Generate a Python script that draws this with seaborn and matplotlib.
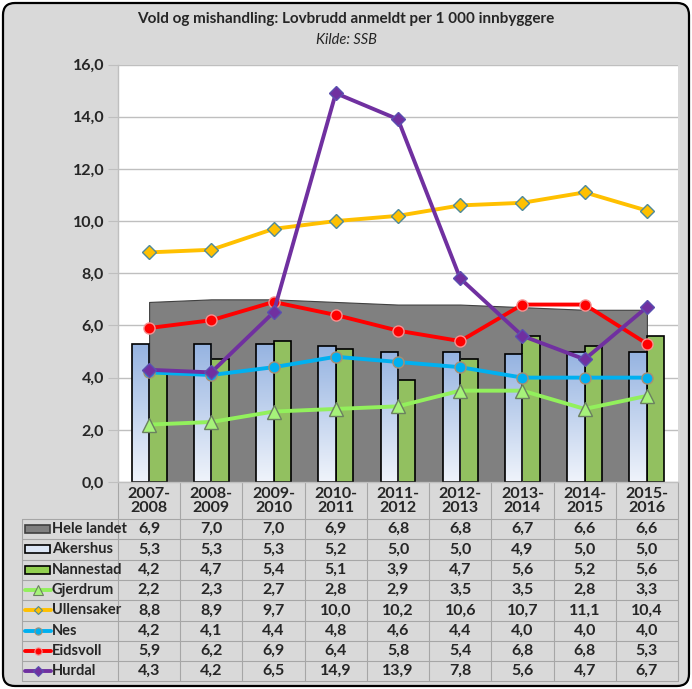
"""Vold og mishandling: lovbrudd anmeldt per 1 000 innbyggere (Kilde: SSB)."""

import matplotlib
matplotlib.use("Agg")  # Non-interactive backend
import matplotlib.pyplot as plt
import numpy as np
import pandas as pd
import seaborn as sns
from matplotlib.colors import LinearSegmentedColormap
from matplotlib.lines import Line2D
from matplotlib.patches import FancyBboxPatch, Rectangle
from matplotlib.ticker import FuncFormatter

periods = ["2007-\n2008", "2008-\n2009", "2009-\n2010", "2010-\n2011", "2011-\n2012",
           "2012-\n2013", "2013-\n2014", "2014-\n2015", "2015-\n2016"]
hele_landet = [6.9, 7.0, 7.0, 6.9, 6.8, 6.8, 6.7, 6.6, 6.6]
akershus = [5.3, 5.3, 5.3, 5.2, 5.0, 5.0, 4.9, 5.0, 5.0]
nannestad = [4.2, 4.7, 5.4, 5.1, 3.9, 4.7, 5.6, 5.2, 5.6]
gjerdrum = [2.2, 2.3, 2.7, 2.8, 2.9, 3.5, 3.5, 2.8, 3.3]
ullensaker = [8.8, 8.9, 9.7, 10.0, 10.2, 10.6, 10.7, 11.1, 10.4]
nes = [4.2, 4.1, 4.4, 4.8, 4.6, 4.4, 4.0, 4.0, 4.0]
eidsvoll = [5.9, 6.2, 6.9, 6.4, 5.8, 5.4, 6.8, 6.8, 5.3]
hurdal = [4.3, 4.2, 6.5, 14.9, 13.9, 7.8, 5.6, 4.7, 6.7]

TITLE = "Vold og mishandling: Lovbrudd anmeldt per 1 000 innbyggere"
SUBTITLE = "Kilde: SSB"

BG = "#d9d9d9"
GRID = "#bfbfbf"
TABLE_LINE = "#a6a6a6"
TABLE_FS = 11.5
LABEL_FS = 10.5

LINE_STYLES = {
    "Gjerdrum": dict(color="#92f05c", marker="^", markerfacecolor="#a6f27a",
                     markeredgecolor="#6b8060", markersize=10),
    "Ullensaker": dict(color="#ffc000", marker="D", markerfacecolor="#ffc000",
                       markeredgecolor="#4f8a9a", markersize=7),
    "Nes": dict(color="#00b0f0", marker="o", markerfacecolor="#00b0f0",
                markeredgecolor="#a88f72", markersize=8),
    "Eidsvoll": dict(color="#ff0000", marker="o", markerfacecolor="#ff0000",
                     markeredgecolor="#f59090", markersize=8),
    "Hurdal": dict(color="#7030a0", marker="D", markerfacecolor="#7030a0",
                   markeredgecolor="#5a50b0", markersize=7.5),
}
LINE_DATA = {"Gjerdrum": gjerdrum, "Ullensaker": ullensaker, "Nes": nes,
             "Eidsvoll": eidsvoll, "Hurdal": hurdal}

sns.set_style("white")
plt.rcParams["font.family"] = ["Lato", "DejaVu Sans"]

W, H = 692, 689
fig = plt.figure(figsize=(W / 100, H / 100), dpi=100, facecolor="white")

# Background axes in pixel coordinates: frame, titles, data table
bg = fig.add_axes([0, 0, 1, 1], zorder=0)
bg.set_xlim(0, W)
bg.set_ylim(H, 0)
bg.axis("off")
bg.add_patch(FancyBboxPatch((3, 3), W - 6, H - 6, boxstyle="round,pad=0,rounding_size=12",
                            fc=BG, ec="black", lw=1.6))
bg.text(W / 2, 19, TITLE, ha="center", va="center", fontsize=11, fontweight="bold")
bg.text(W / 2, 40, SUBTITLE, ha="center", va="center", fontsize=10.5, style="italic")

# Plot area
plot_left, plot_right, plot_top, plot_bot = 118, 678, 64.5, 482
ax = fig.add_axes([plot_left / W, 1 - plot_bot / H,
                   (plot_right - plot_left) / W, (plot_bot - plot_top) / H], zorder=1)
ax.set_facecolor("white")

n = len(periods)
x = np.arange(n)

# Hele landet as area
ax.fill_between(x, hele_landet, color="#808080", edgecolor="#404040", lw=0.8, zorder=1.5)

# Akershus / Nannestad bars
bars_df = pd.DataFrame({
    "period": periods * 2,
    "region": ["Akershus"] * n + ["Nannestad"] * n,
    "value": akershus + nannestad,
})
sns.barplot(data=bars_df, x="period", y="value", hue="region",
            hue_order=["Akershus", "Nannestad"],
            palette={"Akershus": "#c5d5ee", "Nannestad": "#92d050"},
            width=0.56, gap=0, edgecolor="black", linewidth=1.2,
            legend=False, ax=ax, zorder=2)

# Gradient fill on Akershus bars
cmap = LinearSegmentedColormap.from_list("akershus", ["#f0f4fb", "#95b3e1"])
grad = np.linspace(0, 1, 256).reshape(-1, 1)
for bar in ax.containers[0]:
    x0, y0 = bar.get_x(), bar.get_y()
    w, h = bar.get_width(), bar.get_height()
    im = ax.imshow(grad, extent=[x0, x0 + w, y0, y0 + h], origin="lower",
                   aspect="auto", cmap=cmap, zorder=2.1)
    im.set_clip_path(bar)
    bar.set_facecolor("none")
    bar.set_zorder(2.2)

# Lines
for name, values in LINE_DATA.items():
    sns.lineplot(x=x, y=values, linewidth=2.8, markeredgewidth=1.0, legend=False,
                 ax=ax, zorder=3, **LINE_STYLES[name])

ax.set_xlim(-0.5, n - 0.5)
ax.set_ylim(0, 16)
ax.set_yticks(np.arange(0, 17, 2))
ax.yaxis.set_major_formatter(FuncFormatter(lambda v, _: f"{v:.1f}".replace(".", ",")))
ax.set_xticks([])
ax.set_xlabel("")
ax.set_ylabel("")
ax.grid(axis="y", color=GRID, lw=1)
ax.set_axisbelow(True)
ax.tick_params(axis="y", length=7, color=GRID, labelsize=11.5, pad=3, left=True)
for lbl in ax.get_yticklabels():
    lbl.set_fontweight("bold")
for side in ["top", "right"]:
    ax.spines[side].set_visible(False)
for side in ["left", "bottom"]:
    ax.spines[side].set_color(GRID)
    ax.spines[side].set_linewidth(1)

# Data table
table_left = 22
col_w = (plot_right - plot_left) / n
header_bot = 519
row_h = 20.3
rows = [
    ("Hele landet", hele_landet, "area"),
    ("Akershus", akershus, "bar"),
    ("Nannestad", nannestad, "bar"),
    ("Gjerdrum", gjerdrum, "line"),
    ("Ullensaker", ullensaker, "line"),
    ("Nes", nes, "line"),
    ("Eidsvoll", eidsvoll, "line"),
    ("Hurdal", hurdal, "line"),
]
table_bot = header_bot + row_h * len(rows)

for i in range(n + 1):
    xi = plot_left + i * col_w
    bg.plot([xi, xi], [plot_bot, table_bot], color=TABLE_LINE, lw=0.8)
bg.plot([table_left, table_left], [header_bot, table_bot], color=TABLE_LINE, lw=0.8)
for j in range(len(rows) + 1):
    yj = header_bot + j * row_h
    bg.plot([table_left, plot_right], [yj, yj], color=TABLE_LINE, lw=0.8)

for i, p in enumerate(periods):
    bg.text(plot_left + (i + 0.5) * col_w, (plot_bot + header_bot) / 2 + 1, p,
            ha="center", va="center", fontsize=TABLE_FS, fontweight="bold", linespacing=1.0)

swatch = {"Hele landet": ("#808080", "#404040"), "Akershus": ("#dce6f5", "black"),
          "Nannestad": ("#92d050", "black")}
for j, (name, values, kind) in enumerate(rows):
    yc = header_bot + (j + 0.5) * row_h
    if kind in ("area", "bar"):
        fc, ec = swatch[name]
        bg.add_patch(Rectangle((25, yc - 4), 25, 8, fc=fc, ec=ec, lw=1.2))
    else:
        st = LINE_STYLES[name]
        bg.add_line(Line2D([25, 51], [yc, yc], color=st["color"], lw=2.8))
        bg.add_line(Line2D([38], [yc], marker=st["marker"], markersize=st["markersize"] * 0.65,
                           markerfacecolor=st["markerfacecolor"],
                           markeredgecolor=st["markeredgecolor"], markeredgewidth=0.8))
    bg.text(52, yc, name, ha="left", va="center", fontsize=LABEL_FS, fontweight="bold")
    for i, v in enumerate(values):
        bg.text(plot_left + (i + 0.5) * col_w, yc, f"{v:.1f}".replace(".", ","),
                ha="center", va="center", fontsize=TABLE_FS, fontweight="bold")

fig.savefig("out.png", dpi=100, facecolor="white")
plt.close(fig)
